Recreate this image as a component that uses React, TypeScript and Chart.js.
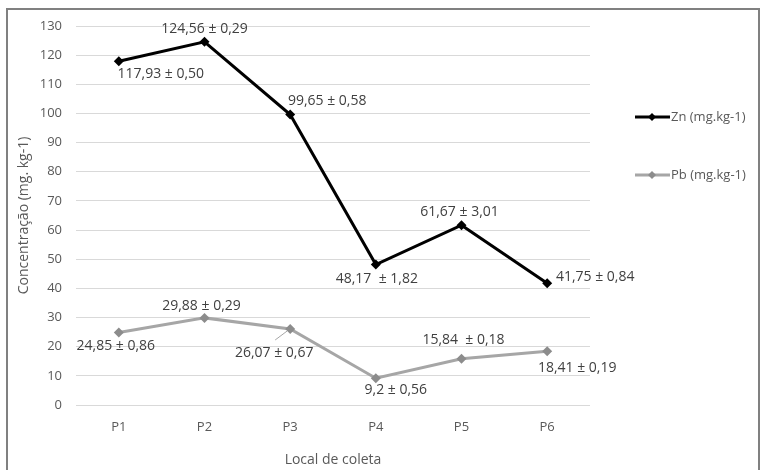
import React, { useEffect, useRef } from "react";
import { Chart, registerables } from "chart.js";

Chart.register(...registerables);

const categories = ["P1", "P2", "P3", "P4", "P5", "P6"];
const znValues = [117.93, 124.56, 99.65, 48.17, 61.67, 41.75];
const pbValues = [24.85, 29.88, 26.07, 9.2, 15.84, 18.41];
const znLabelText = ["117,93 ± 0,50", "124,56 ± 0,29", "99,65 ± 0,58", "48,17  ± 1,82", "61,67 ± 3,01", "41,75 ± 0,84"];
const pbLabelText = ["24,85 ± 0,86", "29,88 ± 0,29", "26,07 ± 0,67", "9,2 ± 0,56", "15,84  ± 0,18", "18,41 ± 0,19"];
const yTicks = [0, 130, 10];

// label placement (offset of label centre from point, in px)
const znLabelOffsets = [[42, 13], [0, -13], [37, -13], [1, 14], [-2, -13], [48, -6]];
const pbLabelOffsets = [[-3, 13], [-3, -12], [-16, 24], [20, 12], [2, -19], [30, 17]];

const FONT = "'Open Sans', 'DejaVu Sans', sans-serif";

const labelPlugin = {
  id: "valueLabels",
  afterDatasetsDraw(chart: any) {
    const ctx = chart.ctx;
    ctx.save();
    ctx.font = `14px ${FONT}`;
    ctx.fillStyle = "#404040";
    ctx.textAlign = "center";
    ctx.textBaseline = "middle";
    const sets = [
      { meta: chart.getDatasetMeta(0), texts: znLabelText, off: znLabelOffsets },
      { meta: chart.getDatasetMeta(1), texts: pbLabelText, off: pbLabelOffsets },
    ];
    sets.forEach((s) => {
      s.meta.data.forEach((pt: any, i: number) => {
        ctx.fillText(s.texts[i], pt.x + s.off[i][0], pt.y + s.off[i][1]);
      });
    });
    // leader line for Pb P3
    const p3 = chart.getDatasetMeta(1).data[2];
    ctx.strokeStyle = "#a6a6a6";
    ctx.lineWidth = 1;
    ctx.beginPath();
    ctx.moveTo(p3.x - 15, p3.y + 11);
    ctx.lineTo(p3.x - 3, p3.y + 2);
    ctx.stroke();
    ctx.restore();
  },
};

const legendPlugin = {
  id: "customLegend",
  afterDraw(chart: any) {
    const ctx = chart.ctx;
    ctx.save();
    // outer frame (open at bottom, as in the cropped original)
    ctx.fillStyle = "#808080";
    ctx.fillRect(6, 8, 754, 2);
    ctx.fillRect(6, 8, 2, chart.height - 8);
    ctx.fillRect(758, 8, 2, chart.height - 8);
    const items = [
      { label: "Zn (mg.kg-1)", line: "#000000", marker: "#000000", width: 3, y: 117 },
      { label: "Pb (mg.kg-1)", line: "#a6a6a6", marker: "#8c8c8c", width: 3, y: 175 },
    ];
    items.forEach((it) => {
      ctx.strokeStyle = it.line;
      ctx.lineWidth = it.width;
      ctx.beginPath();
      ctx.moveTo(635, it.y);
      ctx.lineTo(670, it.y);
      ctx.stroke();
      ctx.fillStyle = it.marker;
      ctx.beginPath();
      ctx.moveTo(652, it.y - 4);
      ctx.lineTo(656, it.y);
      ctx.lineTo(652, it.y + 4);
      ctx.lineTo(648, it.y);
      ctx.closePath();
      ctx.fill();
      ctx.fillStyle = "#595959";
      ctx.font = `13px ${FONT}`;
      ctx.textAlign = "left";
      ctx.textBaseline = "middle";
      ctx.fillText(it.label, 671, it.y);
    });
    ctx.restore();
  },
};

export default function App() {
  const ref = useRef<HTMLCanvasElement>(null);
  useEffect(() => {
    document.body.style.margin = "0";
    const chart = new Chart(ref.current!, {
      type: "line",
      data: {
        labels: categories,
        datasets: [
          {
            label: "Zn (mg.kg-1)",
            data: znValues,
            borderColor: "#000000",
            backgroundColor: "#000000",
            borderWidth: 3,
            pointStyle: "rectRot",
            pointRadius: 5,
            pointBorderWidth: 0,
            tension: 0,
          },
          {
            label: "Pb (mg.kg-1)",
            data: pbValues,
            borderColor: "#a6a6a6",
            backgroundColor: "#8c8c8c",
            borderWidth: 3,
            pointStyle: "rectRot",
            pointRadius: 5,
            pointBorderWidth: 0,
            tension: 0,
          },
        ],
      },
      options: {
        animation: false,
        responsive: false,
        maintainAspectRatio: false,
        layout: { padding: { top: 26, right: 171, left: 0, bottom: 0 } },
        plugins: {
          legend: { display: false },
          tooltip: { enabled: false },
        },
        scales: {
          x: {
            offset: true,
            grid: { display: false },
            border: { display: false },
            ticks: { color: "#595959", font: { family: FONT, size: 13 }, padding: 6 },
            title: {
              display: true,
              text: "Local de coleta",
              color: "#595959",
              font: { family: FONT, size: 14 },
              padding: { top: 12, bottom: 2 },
            },
            afterFit(scale: any) {
              scale.height = 65;
            },
          },
          y: {
            min: yTicks[0],
            max: yTicks[1],
            ticks: { stepSize: yTicks[2], color: "#595959", font: { family: FONT, size: 13 }, padding: 14 },
            grid: { color: "#d9d9d9", drawTicks: false, lineWidth: 1 },
            border: { display: false },
            title: {
              display: true,
              text: "Concentração (mg. kg-1)",
              color: "#595959",
              font: { family: FONT, size: 14 },
              padding: { top: 16, bottom: 6 },
            },
            afterFit(scale: any) {
              scale.width = 76;
            },
          },
        },
      },
      plugins: [labelPlugin, legendPlugin],
    });
    return () => chart.destroy();
  }, []);
  return (
    <div style={{ width: 761, height: 470, overflow: "hidden", background: "#fff" }}>
      <canvas ref={ref} width={761} height={470} style={{ display: "block" }} />
    </div>
  );
}
